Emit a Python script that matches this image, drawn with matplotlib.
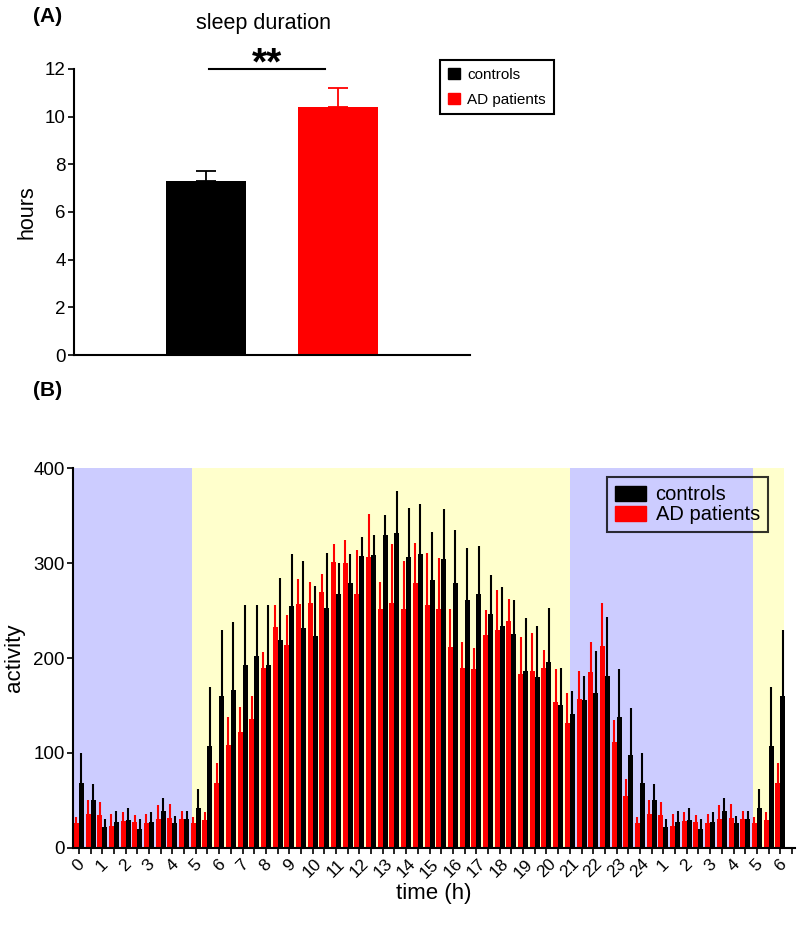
import numpy as np
import matplotlib
matplotlib.use("Agg")
import matplotlib.pyplot as plt
from matplotlib.patches import Patch

plt.rcParams['font.family'] = ['Liberation Sans', 'DejaVu Sans']

# ---------------- Panel A data ----------------
groups = ["controls", "AD patients"]
sleep_mean = [7.3, 10.4]
sleep_err = [0.4, 0.8]
group_colors = ["#000000", "#ff0000"]

# ---------------- Panel B data (half-hour bins, double plotted 0..24..6) -------
time_hours = [0, 0.5, 1, 1.5, 2, 2.5, 3, 3.5, 4, 4.5, 5, 5.5, 6, 6.5, 7, 7.5, 8, 8.5,
              9, 9.5, 10, 10.5, 11, 11.5, 12, 12.5, 13, 13.5, 14, 14.5, 15, 15.5,
              16, 16.5, 17, 17.5, 18, 18.5, 19, 19.5, 20, 20.5, 21, 21.5, 22, 22.5,
              23, 23.5, 24, 24.5, 25, 25.5, 26, 26.5, 27, 27.5, 28, 28.5, 29, 29.5, 30]

controls_mean = [68, 50, 22, 27, 29, 20, 27, 39, 26, 30, 42, 107, 160, 166, 193, 202,
                 193, 219, 255, 232, 223, 253, 267, 279, 307, 308, 330, 332, 306, 309,
                 282, 304, 279, 261, 267, 246, 234, 225, 186, 180, 196, 150, 141, 156,
                 163, 181, 138, 98,
                 68, 50, 22, 27, 29, 20, 27, 39, 26, 30, 42, 107, 160]
controls_top = [100, 67, 31, 39, 42, 30, 38, 53, 34, 39, 62, 169, 230, 238, 256, 256,
                256, 284, 309, 302, 276, 311, 300, 310, 327, 330, 351, 376, 358, 362,
                333, 357, 335, 316, 318, 287, 275, 261, 242, 234, 253, 190, 165, 181,
                207, 243, 188, 147,
                100, 67, 31, 39, 42, 30, 38, 53, 34, 39, 62, 169, 230]

ad_mean = [26, 36, 35, 23, 28, 27, 26, 31, 32, 30, 26, 29, 68, 108, 122, 136,
           190, 233, 214, 257, 258, 269, 301, 300, 267, 306, 252, 258, 252, 279,
           256, 252, 212, 190, 188, 224, 229, 239, 183, 186, 190, 154, 132, 157,
           185, 213, 112, 55,
           26, 36, 35, 23, 28, 27, 26, 31, 32, 30, 26, 29, 68]
ad_top = [33, 50, 48, 36, 38, 35, 36, 45, 46, 39, 33, 38, 89, 138, 148, 160,
          206, 256, 245, 283, 280, 288, 320, 324, 314, 352, 280, 320, 302, 321,
          311, 305, 252, 217, 211, 251, 272, 262, 222, 226, 208, 188, 163, 186,
          217, 258, 135, 73,
          33, 50, 48, 36, 38, 35, 36, 45, 46, 39, 33, 38, 89]

hour_labels = ["0", "1", "2", "3", "4", "5", "6", "7", "8", "9", "10", "11", "12",
               "13", "14", "15", "16", "17", "18", "19", "20", "21", "22", "23", "24",
               "1", "2", "3", "4", "5", "6"]

dark_periods = [(-0.3, 4.85), (21.0, 28.85)]
light_periods = [(4.85, 21.0), (28.85, 30.15)]
dark_color = "#ccccff"
light_color = "#ffffcc"

TICK_FS = 13.5
LABEL_FS = 15.5

# ---------------- Figure ----------------
fig = plt.figure(figsize=(8.0, 9.38), dpi=100)

# Panel A
axA = fig.add_axes([0.0925, 0.6215, 0.495, 0.305])
xA = [1, 2]
axA.bar(xA, sleep_mean, width=0.6, color=group_colors, zorder=2)
for x, m, e, c in zip(xA, sleep_mean, sleep_err, group_colors):
    axA.errorbar([x], [m], yerr=[[0], [e]], color=c, capsize=7.5, elinewidth=1.3,
                 capthick=1.3, fmt='none', zorder=1)
axA.set_xlim(0, 3)
axA.set_ylim(0, 12)
axA.set_yticks([0, 2, 4, 6, 8, 10, 12])
axA.set_xticks([])
axA.spines['top'].set_visible(False)
axA.spines['right'].set_visible(False)
axA.spines['left'].set_linewidth(1.5)
axA.spines['bottom'].set_linewidth(1.5)
axA.tick_params(axis='y', labelsize=TICK_FS, width=1.2, length=4, pad=2)
axA.set_ylabel("hours", fontsize=LABEL_FS, labelpad=5)
fig.text(0.33, 1 - 23 / 938, "sleep duration", fontsize=LABEL_FS, ha='center', va='center')
axA.plot([1.02, 1.9], [12, 12], color='black', lw=1.5, clip_on=False)
axA.text(1.46, 11.78, "**", ha='center', va='baseline', fontsize=28, fontweight='bold')
legA = axA.legend(handles=[Patch(color=group_colors[0], label=groups[0]),
                           Patch(color=group_colors[1], label=groups[1])],
                  loc='upper left', bbox_to_anchor=(0.924, 1.031), borderaxespad=0,
                  fontsize=11, handlelength=0.8, handleheight=0.8, handletextpad=0.5,
                  borderpad=0.5, labelspacing=0.7, fancybox=False, framealpha=1,
                  edgecolor='black')
legA.get_frame().set_linewidth(1.5)
fig.text(0.06, 1 - 17 / 938, "(A)", fontsize=15, fontweight='bold', va='center', ha='center')

# Panel B
axB = fig.add_axes([0.09125, 0.096, 0.9025, 0.405])
for a, b in dark_periods:
    axB.axvspan(a, b, color=dark_color, lw=0, zorder=0)
for a, b in light_periods:
    axB.axvspan(a, b, color=light_color, lw=0, zorder=0)

t = np.array(time_hours)
w = 0.214
axB.bar(t - w / 2, ad_mean, width=w, color="#ff0000", zorder=2, linewidth=0)
axB.bar(t + w / 2, controls_mean, width=w, color="#000000", zorder=2, linewidth=0)
axB.vlines(t - w / 2, ad_mean, ad_top, color="#ff0000", lw=1.5, zorder=2)
axB.vlines(t + w / 2, controls_mean, controls_top, color="#000000", lw=1.5, zorder=2)

axB.set_xlim(-0.25, 30.63)
axB.set_ylim(0, 400)
axB.set_yticks([0, 100, 200, 300, 400])
ticks = list(np.arange(0, 30.51, 0.5))
labels = []
for i in range(len(ticks)):
    labels.append(hour_labels[i // 2] if i % 2 == 0 else "")
axB.set_xticks(ticks)
axB.set_xticklabels(labels, rotation=45, ha='center', fontsize=12.5)
axB.spines['top'].set_visible(False)
axB.spines['right'].set_visible(False)
axB.spines['left'].set_linewidth(1.5)
axB.spines['bottom'].set_linewidth(1.5)
axB.tick_params(axis='both', width=1.2, length=4, pad=2)
axB.tick_params(axis='y', labelsize=TICK_FS)
axB.set_ylabel("activity", fontsize=LABEL_FS + 0.5, labelpad=6)
axB.set_xlabel("time (h)", fontsize=LABEL_FS + 0.5, labelpad=2)
legB = axB.legend(handles=[Patch(color="#000000", label="controls"),
                           Patch(color="#ff0000", label="AD patients")],
                  loc='upper left', bbox_to_anchor=(0.74, 0.976), borderaxespad=0,
                  fontsize=14.5, handlelength=1.5, handleheight=0.75, handletextpad=0.5,
                  borderpad=0.4, labelspacing=0.05, fancybox=False,
                  facecolor='none', framealpha=None, edgecolor='black')
legB.get_frame().set_linewidth(1.5)
fig.text(0.06, 1 - 390 / 938, "(B)", fontsize=15, fontweight='bold', va='center', ha='center')

fig.savefig("out.png", dpi=100)
